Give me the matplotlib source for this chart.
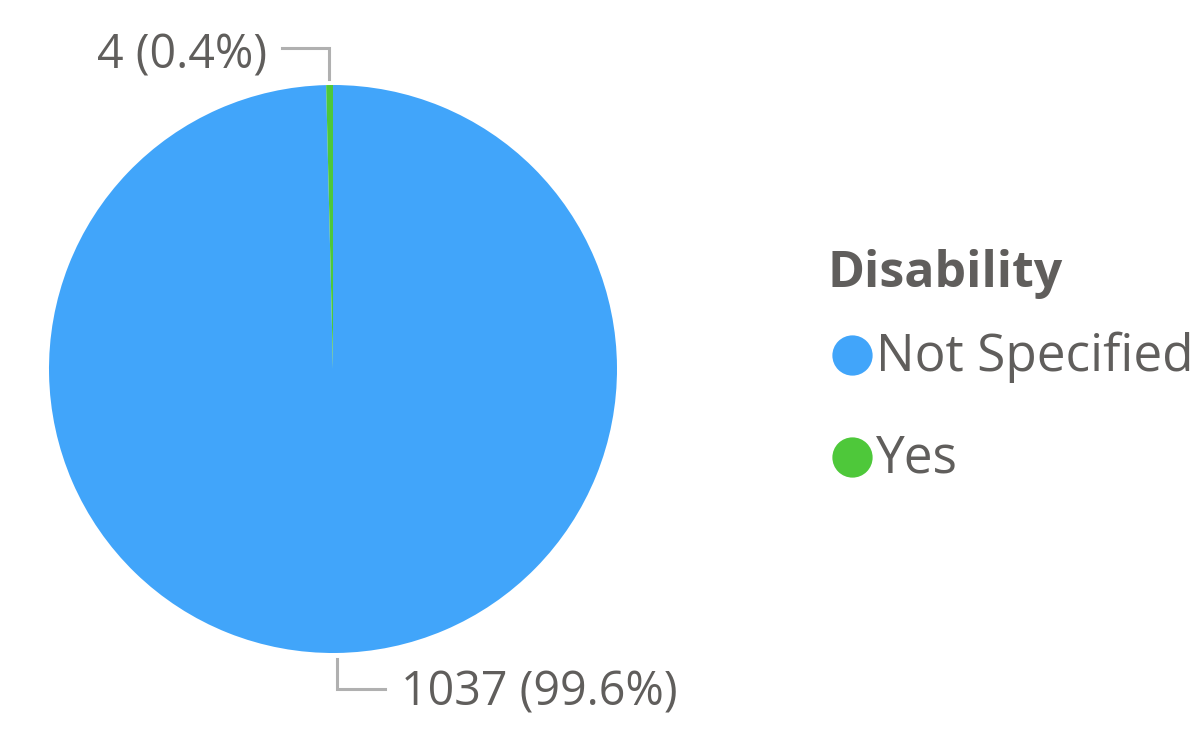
import numpy as np
import matplotlib
matplotlib.use("Agg")
import matplotlib.pyplot as plt

plt.rcParams['font.family'] = ['Open Sans', 'DejaVu Sans']

categories = ["Not Specified", "Yes"]
counts = [1037, 4]
colors = ["#41A5FA", "#4EC83A"]
title = "Disability"

W, H = 1204, 732
fig = plt.figure(figsize=(W / 100, H / 100), dpi=100)
ax = fig.add_axes([0, 0, 1, 1])

cx, cy, r = 333, H - 369, 284
txt_col = "#605E5C"
line_col = "#B0B0B0"

wedges, _ = ax.pie(counts, colors=colors, startangle=90, counterclock=False,
                   center=(cx, cy), radius=r, frame=True,
                   wedgeprops=dict(linewidth=0))
ax.set_xlim(0, W)
ax.set_ylim(0, H)
ax.set_aspect('equal')
ax.axis('off')

total = sum(counts)
for w, v in zip(wedges, counts):
    mid = np.deg2rad((w.theta1 + w.theta2) / 2)
    x0 = cx + (r + 6) * np.cos(mid)
    y0 = cy + (r + 6) * np.sin(mid)
    label = f"{v} ({v / total * 100:.1f}%)"
    if np.sin(mid) > 0:
        y1 = y0 + 31
        ax.plot([x0, x0, x0 - 47], [y0, y1, y1], color=line_col, lw=2.2,
                solid_joinstyle='miter')
        ax.text(x0 - 62, y1 - 8, label, ha='right', va='center',
                fontsize=33.5, color=txt_col)
    else:
        y1 = y0 - 30
        ax.plot([x0, x0, x0 + 48], [y0, y1, y1], color=line_col, lw=2.2,
                solid_joinstyle='miter')
        ax.text(x0 + 64, y1 - 4, label, ha='left', va='center',
                fontsize=33.5, color=txt_col)

# legend
ax.text(827, H - 274, title, ha='left', va='center', fontsize=36,
        fontweight='bold', color=txt_col)
for i, (c, col) in enumerate(zip(categories, colors)):
    yy = H - (355 + i * 102)
    ax.scatter([852], [yy], s=840, color=col, linewidths=0, zorder=3)
    ax.text(876, yy - 2, c, ha='left', va='center', fontsize=37, color=txt_col)

fig.savefig("out.png", dpi=100)
